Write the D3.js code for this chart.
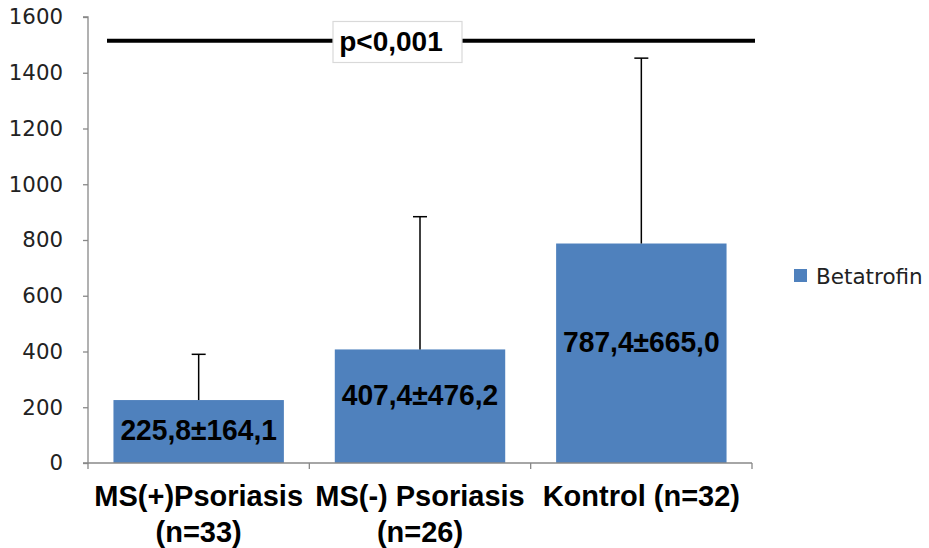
<!DOCTYPE html>
<html>
<head>
<meta charset="utf-8">
<script src="https://cdn.jsdelivr.net/npm/d3@7"></script>
<style>
  html, body { margin: 0; padding: 0; background: #fff; }
  svg { display: block; }
</style>
</head>
<body>
<svg id="chart" width="929" height="548"></svg>
<script>
// ---- data ----
const categories = ["MS(+)Psoriasis\n(n=33)", "MS(-) Psoriasis\n(n=26)", "Kontrol (n=32)"];
const means = [225.8, 407.4, 787.4];
const sds = [164.1, 476.2, 665.0];
const barLabels = ["225,8±164,1", "407,4±476,2", "787,4±665,0"];
const yTicks = [0, 200, 400, 600, 800, 1000, 1200, 1400, 1600];
const seriesName = "Betatrofin";
const pText = "p<0,001";
const pLevel = 1515;

// ---- layout ----
const svg = d3.select("#chart");
const mLeft = 88, mRight = 752, mTop = 17, mBottom = 463;
const barColor = "#4F81BD";

const y = d3.scaleLinear().domain([0, 1600]).range([mBottom, mTop]);
const x = d3.scaleBand().domain(d3.range(categories.length)).range([mLeft, mRight]).padding(0);
const barW = x.bandwidth() * 0.77;

// bars
svg.append("g").selectAll("rect").data(means).join("rect")
  .attr("x", (d, i) => x(i) + (x.bandwidth() - barW) / 2)
  .attr("y", d => y(d))
  .attr("width", barW)
  .attr("height", d => y(0) - y(d))
  .attr("fill", barColor);

// error bars (upper only)
const eg = svg.append("g").attr("stroke", "#000").attr("stroke-width", 1.5);
means.forEach((m, i) => {
  const cx = x(i) + x.bandwidth() / 2;
  eg.append("line").attr("x1", cx).attr("x2", cx).attr("y1", y(m)).attr("y2", y(m + sds[i]));
  eg.append("line").attr("x1", cx - 7).attr("x2", cx + 7).attr("y1", y(m + sds[i])).attr("y2", y(m + sds[i]));
});

// y axis
const yAxis = d3.axisLeft(y).tickValues(yTicks).tickSize(5).tickPadding(20).tickFormat(d3.format("d"));
const yg = svg.append("g").attr("transform", `translate(${mLeft},0)`).call(yAxis);
yg.select(".domain").attr("stroke", "#888").attr("stroke-width", 1.3).attr("d", `M-5,${mTop}H0V${mBottom}H-5`);
yg.selectAll(".tick line").attr("stroke", "#888").attr("stroke-width", 1.3);
yg.selectAll(".tick text").attr("font-family", "DejaVu Sans").attr("font-size", 21.3).attr("fill", "#222");

// x axis
const xTickPos = d3.range(categories.length + 1).map(i => mLeft + i * x.bandwidth());
const xg = svg.append("g");
xg.append("line").attr("x1", mLeft).attr("x2", mRight).attr("y1", mBottom).attr("y2", mBottom)
  .attr("stroke", "#888").attr("stroke-width", 1.3);
xg.selectAll("line.t").data(xTickPos).join("line").attr("class", "t")
  .attr("x1", d => d).attr("x2", d => d).attr("y1", mBottom).attr("y2", mBottom + 6)
  .attr("stroke", "#888").attr("stroke-width", 1.3);

// category labels
categories.forEach((c, i) => {
  const cx = x(i) + x.bandwidth() / 2;
  const t = svg.append("text").attr("text-anchor", "middle")
    .attr("font-family", "Liberation Sans, Arial, sans-serif").attr("font-weight", "bold")
    .attr("font-size", 29).attr("fill", "#000");
  c.split("\n").forEach((line, j) => {
    t.append("tspan").attr("x", cx).attr("y", 506 + j * 36).text(line);
  });
});

// bar value labels
means.forEach((m, i) => {
  const cx = x(i) + x.bandwidth() / 2;
  const h = y(0) - y(m);
  const mid = (y(0) + y(m)) / 2;
  const cy = h < 80 ? mid - 3 : mid - 12;
  svg.append("text")
    .attr("transform", `translate(${cx},${cy + 11}) scale(0.94,1)`)
    .attr("text-anchor", "middle")
    .attr("font-family", "Liberation Sans, Arial, sans-serif").attr("font-weight", "bold")
    .attr("font-size", 30).attr("fill", "#000")
    .text(barLabels[i]);
});

// significance line
const pY = y(pLevel);
svg.append("line").attr("x1", x(0) + 19).attr("x2", mRight + 3).attr("y1", pY).attr("y2", pY)
  .attr("stroke", "#000").attr("stroke-width", 4);
svg.append("rect").attr("x", 333).attr("y", 21.5).attr("width", 129).attr("height", 41)
  .attr("fill", "#fff").attr("stroke", "#d9d9d9").attr("stroke-width", 1.2);
svg.append("text").attr("x", 391).attr("y", 51).attr("text-anchor", "middle")
  .attr("font-family", "Liberation Sans, Arial, sans-serif").attr("font-weight", "bold")
  .attr("font-size", 28).attr("fill", "#000").text(pText);

// legend
svg.append("rect").attr("x", 794).attr("y", 269).attr("width", 13).attr("height", 13).attr("fill", barColor);
svg.append("text").attr("x", 816).attr("y", 283.5)
  .attr("font-family", "DejaVu Sans").attr("font-size", 21.5).attr("fill", "#222").text(seriesName);
</script>
</body>
</html>
